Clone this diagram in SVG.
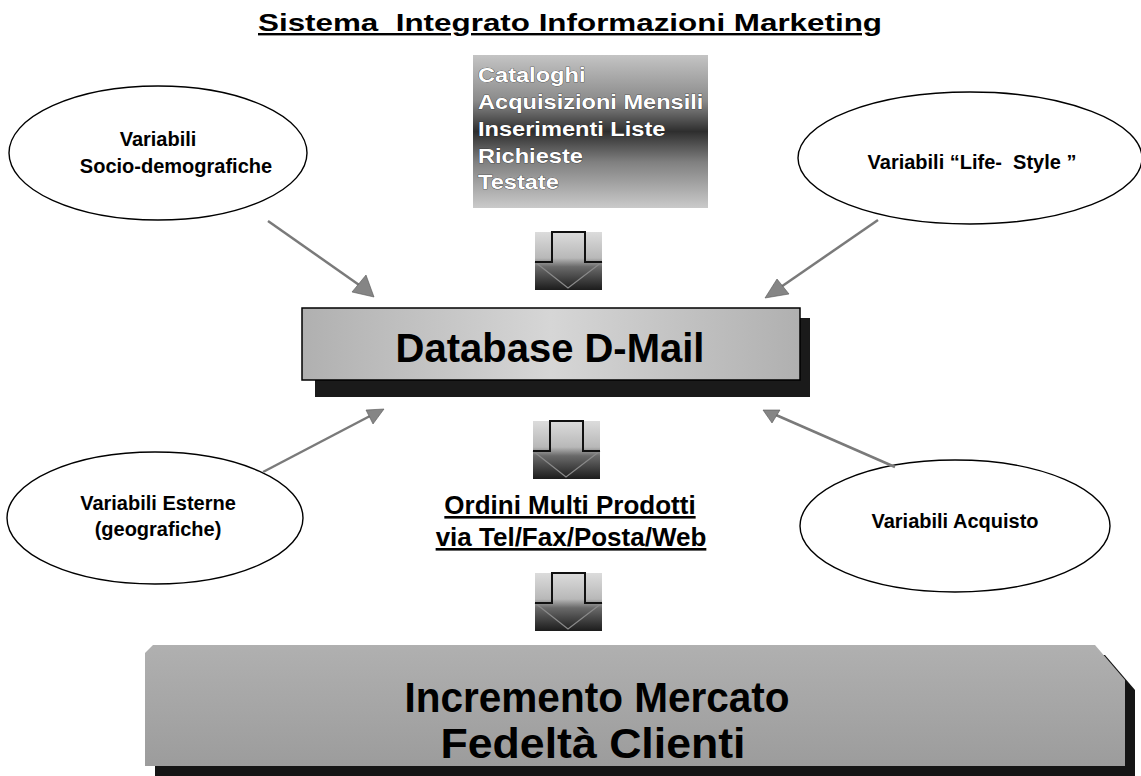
<svg xmlns="http://www.w3.org/2000/svg" width="1141" height="776" viewBox="0 0 1141 776">
<style>
.t{font-family:"Liberation Sans",Arial,sans-serif;font-weight:bold;fill:#000}
.w{font-family:"Liberation Sans",Arial,sans-serif;font-weight:bold;fill:#fff;stroke:#222;stroke-width:0.6;paint-order:stroke}
.ell{fill:#fff;stroke:#000;stroke-width:1.4}
.con{stroke:#7a7a7a;stroke-width:2.5;fill:none}
.ah{fill:#858585;stroke:#555;stroke-width:0.6}
.pre{white-space:pre}
</style>
<defs>
<linearGradient id="boxG" x1="0" y1="0" x2="0" y2="1">
<stop offset="0" stop-color="#c4c4c4"/>
<stop offset="0.3" stop-color="#8a8a8a"/>
<stop offset="0.5" stop-color="#2e2e2e"/>
<stop offset="0.7" stop-color="#808080"/>
<stop offset="1" stop-color="#cacaca"/>
</linearGradient>
<linearGradient id="arrG" x1="0" y1="0" x2="0" y2="1">
<stop offset="0" stop-color="#dcdcdc"/>
<stop offset="0.45" stop-color="#b8b8b8"/>
<stop offset="0.6" stop-color="#6a6a6a"/>
<stop offset="1" stop-color="#1c1c1c"/>
</linearGradient>
<linearGradient id="dbG" x1="0" y1="0" x2="1" y2="0">
<stop offset="0" stop-color="#b0b0b0"/>
<stop offset="0.5" stop-color="#d6d6d6"/>
<stop offset="1" stop-color="#b0b0b0"/>
</linearGradient>
<linearGradient id="banG" x1="0" y1="0" x2="0" y2="1">
<stop offset="0" stop-color="#b0b0b0"/>
<stop offset="1" stop-color="#9c9c9c"/>
</linearGradient>
<g id="blockArrow">
<rect x="0" y="0" width="67" height="58" fill="url(#arrG)"/>
<path d="M0,30 L33,56 L67,30" fill="none" stroke="#8a8a8a" stroke-width="1.2"/>
<path d="M0,30 H17 V0 H50 V30 H67" fill="none" stroke="#111" stroke-width="2"/>
</g>
</defs>

<g id="title">
<text class="t" x="570" y="31" font-size="24" text-anchor="middle" text-decoration="underline" textLength="624" lengthAdjust="spacingAndGlyphs" style="white-space:pre">Sistema  Integrato Informazioni Marketing</text>
</g>

<g id="sources">
<rect x="473" y="55" width="235" height="153" fill="url(#boxG)"/>
<g transform="translate(478,0) scale(1.18,1)">
<text class="w" x="0" y="82" font-size="20">Cataloghi</text>
<text class="w" x="0" y="109" font-size="20">Acquisizioni Mensili</text>
<text class="w" x="0" y="136" font-size="20">Inserimenti Liste</text>
<text class="w" x="0" y="163" font-size="20">Richieste</text>
<text class="w" x="0" y="189" font-size="20">Testate</text>
</g>
</g>

<g id="arrow1"><use href="#blockArrow" x="535" y="232"/></g>
<g id="arrow2"><use href="#blockArrow" x="533" y="421"/></g>
<g id="arrow3"><use href="#blockArrow" x="535" y="573"/></g>

<g id="ell-socio">
<ellipse class="ell" cx="158" cy="153" rx="149" ry="67"/>
<text class="t" x="158" y="146" font-size="20" text-anchor="middle">Variabili</text>
<text class="t" x="176" y="173" font-size="20" text-anchor="middle">Socio-demografiche</text>
</g>

<g id="ell-life">
<ellipse class="ell" cx="970" cy="158" rx="172" ry="66"/>
<text class="t pre" x="972" y="169" font-size="20" text-anchor="middle">Variabili “Life-  Style ”</text>
</g>

<g id="ell-esterne">
<ellipse class="ell" cx="155" cy="518" rx="148" ry="66"/>
<text class="t" x="158" y="510" font-size="20" text-anchor="middle">Variabili Esterne</text>
<text class="t" x="158" y="536" font-size="20" text-anchor="middle">(geografiche)</text>
</g>

<g id="ell-acquisto">
<ellipse class="ell" cx="955" cy="526" rx="155" ry="66"/>
<text class="t" x="955" y="528" font-size="20" text-anchor="middle">Variabili Acquisto</text>
</g>

<g id="database">
<rect x="315" y="318" width="495" height="79" fill="#1a1a1a"/>
<rect x="302" y="308" width="498" height="72" fill="url(#dbG)" stroke="#000" stroke-width="1.5"/>
<text class="t" x="550" y="362" font-size="40" text-anchor="middle">Database D-Mail</text>
</g>

<g id="ordini">
<text class="t" x="570" y="514" font-size="26" text-anchor="middle" text-decoration="underline">Ordini Multi Prodotti</text>
<text class="t" x="571" y="546" font-size="26" text-anchor="middle" text-decoration="underline">via Tel/Fax/Posta/Web</text>
</g>

<g id="result">
<polygon points="163,655 1105,655 1135,690 1135,776 155,776 155,663" fill="#151515"/>
<polygon points="153,645 1095,645 1125,680 1125,766 145,766 145,653" fill="url(#banG)"/>
<text class="t" x="597" y="712" font-size="42" text-anchor="middle" textLength="385" lengthAdjust="spacingAndGlyphs">Incremento Mercato</text>
<text class="t" x="593" y="758" font-size="42" text-anchor="middle" textLength="305" lengthAdjust="spacingAndGlyphs">Fedeltà Clienti</text>
</g>

<g id="connectors">
<line class="con" x1="268" y1="221" x2="362" y2="287"/>
<polygon class="ah" points="374,297 352,292 366,275"/>
<line class="con" x1="878" y1="220" x2="778" y2="289"/>
<polygon class="ah" points="765,298 777,279 789,294"/>
<line class="con" x1="263" y1="472" x2="370" y2="416"/>
<polygon class="ah" points="384,409 366,410 373,424"/>
<line class="con" x1="895" y1="467" x2="776" y2="415"/>
<polygon class="ah" points="763,410 780,410 772,423"/>
</g>
</svg>
